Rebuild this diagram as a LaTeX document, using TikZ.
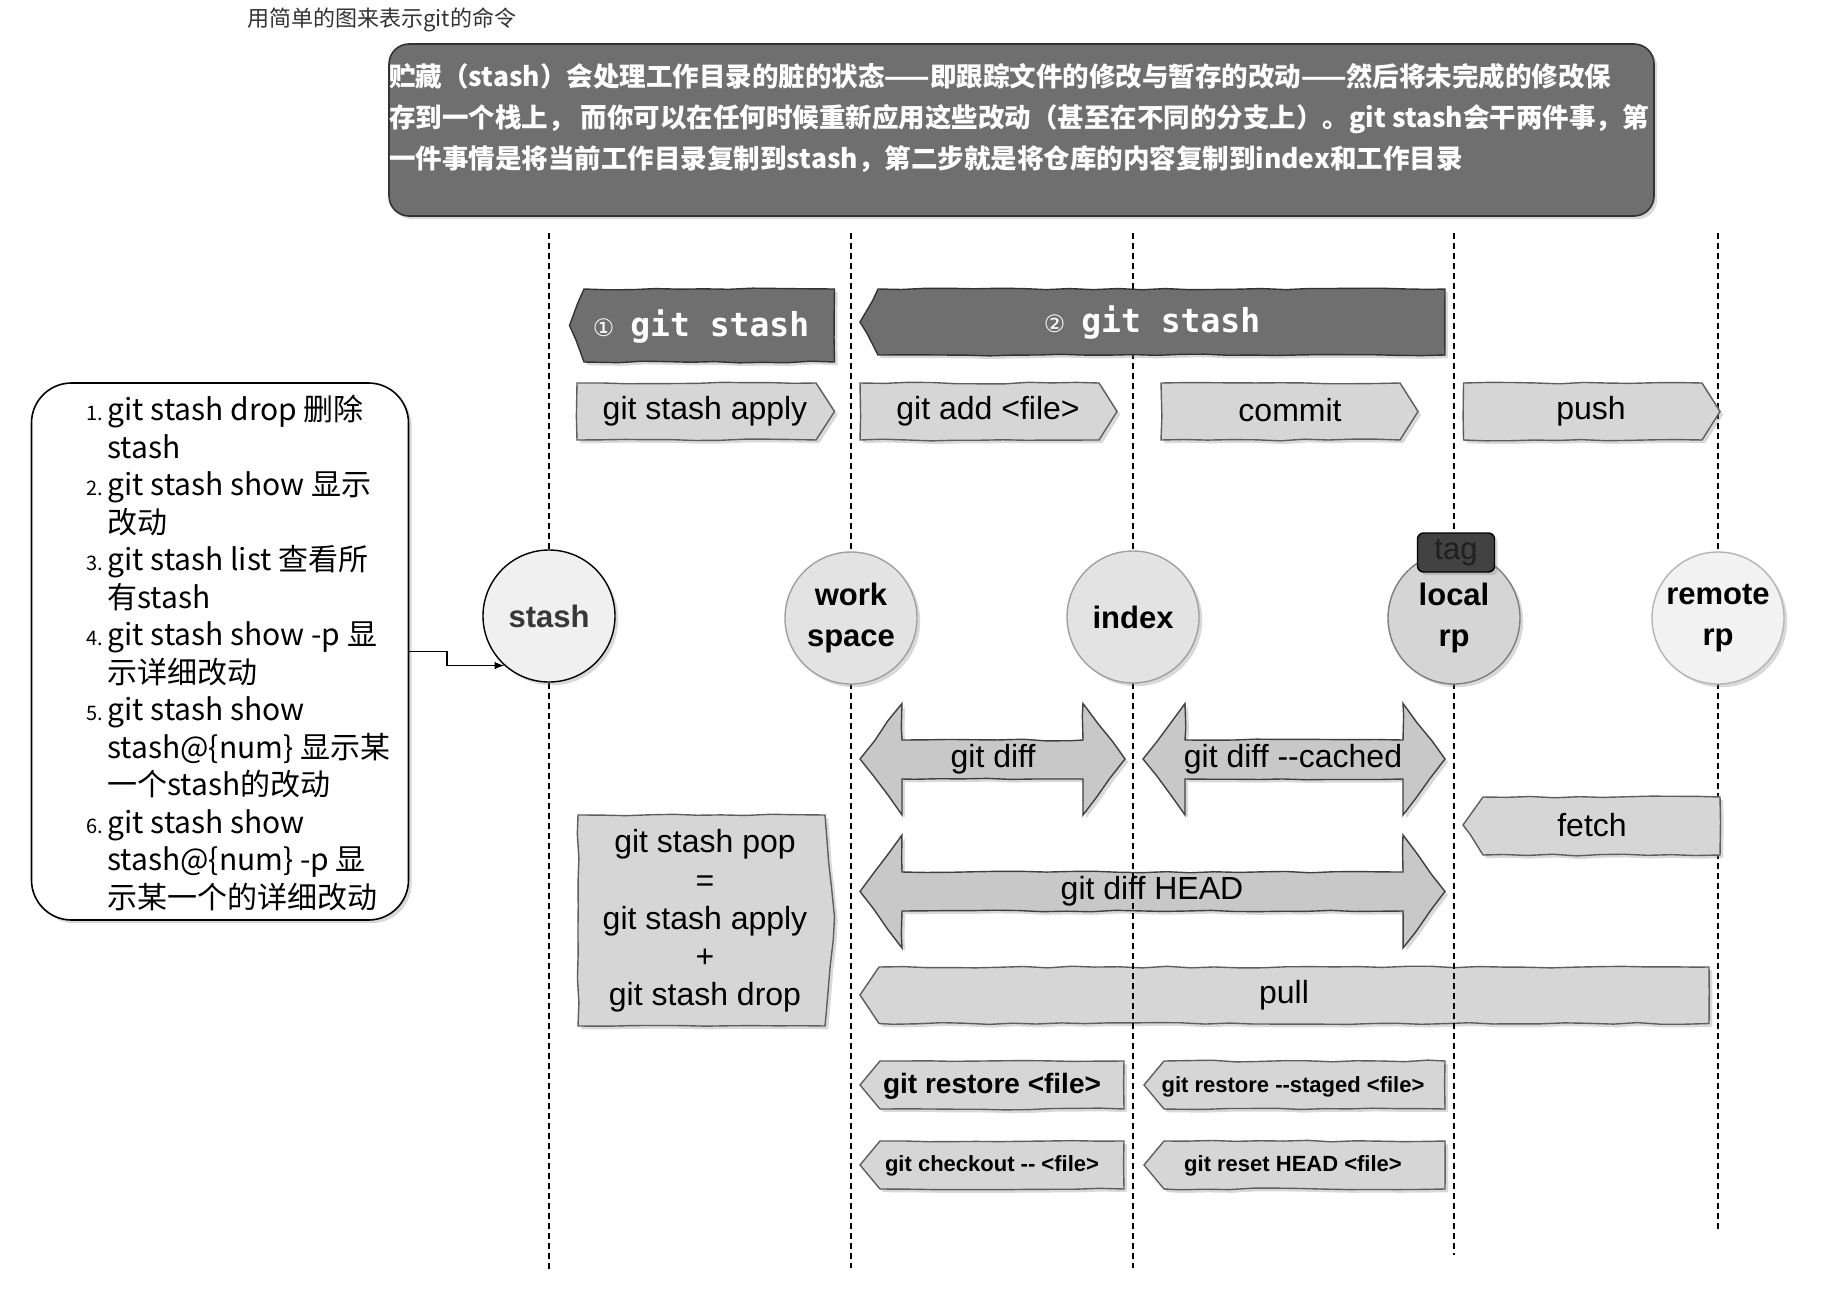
\documentclass[tikz,border=0pt]{standalone}
\usepackage{fontspec}
\setmainfont{Liberation Sans}
\newfontfamily\cnfont{Noto Sans CJK SC}
\newfontfamily\gitmono{DejaVu Sans Mono}
\newfontfamily\circfont{DejaVu Sans}
\usetikzlibrary{arrows,shadows,decorations.pathmorphing,positioning}

\definecolor{darkfill}{HTML}{6F6F6F}
\definecolor{darkline}{HTML}{333333}
\definecolor{lightfill}{HTML}{D6D6D6}
\definecolor{difffill}{HTML}{C8C8C8}
\definecolor{edgegray}{HTML}{5E5E5E}
\definecolor{stashfill}{HTML}{F0F0F0}
\definecolor{wsfill}{HTML}{E3E3E3}
\definecolor{wsline}{HTML}{A0A0A0}
\definecolor{localfill}{HTML}{D5D5D5}
\definecolor{localline}{HTML}{7E7E7E}
\definecolor{remotefill}{HTML}{F2F2F2}
\definecolor{remoteline}{HTML}{B5B5B5}
\definecolor{tagfill}{HTML}{424242}

\tikzstyle{arrow} = [draw, -latex]
\tikzstyle{sketch} = [decorate, decoration={random steps, segment length=12pt, amplitude=0.45pt}]
\tikzstyle{castshadow} = [drop shadow={shadow xshift=1.6pt, shadow yshift=-1.6pt, opacity=0.3}]
\tikzstyle{darkshape} = [sketch, castshadow, fill=darkfill, draw=darkline, line width=0.7pt]
\tikzstyle{lightshape} = [sketch, castshadow, fill=lightfill, draw=edgegray, line width=0.7pt]
\tikzstyle{diffshape} = [sketch, castshadow, fill=difffill, draw=black!75, line width=0.7pt]
\tikzstyle{lifeline} = [draw, black, line width=0.65pt, dash pattern=on 3pt off 2pt]
\tikzstyle{repo} = [circle, minimum size=66pt, inner sep=0pt, line width=0.7pt, align=center, castshadow, font=\bfseries\fontsize{15.5}{20.5}\selectfont]
\tikzstyle{cmd} = [inner sep=0pt, align=center, font=\fontsize{16}{19}\selectfont]
\tikzstyle{smallcmd} = [inner sep=0pt, font=\bfseries\fontsize{11}{13}\selectfont]
\tikzstyle{headtext} = [inner sep=0pt, text=white]

\newcommand{\itemnum}[1]{\llap{\fontsize{10}{10}\selectfont #1.\hspace{2.3pt}}}
\newcommand{\gitstash}[1]{{\circfont\fontsize{12}{14}\selectfont #1}\hspace{8pt}{\gitmono\bfseries\fontsize{16.5}{19}\selectfont git stash}}

\begin{document}
\begin{tikzpicture}[x=0.5pt, y=-0.5pt]
    \useasboundingbox (0,0) rectangle (1830,1290);
    \pgfmathsetseed{11}

    % title
    \node[anchor=west, inner sep=0pt, text=black!80, font=\cnfont\fontsize{11}{13}\selectfont] (title) at (247,20) {用简单的图来表示git的命令};

    % note
    \draw[castshadow, fill=darkfill, draw=darkline, line width=0.8pt, rounded corners=10pt]
        (389,44) rectangle (1654,216);
    \node[anchor=north west, inner sep=0pt, align=left, text=white, font=\cnfont\bfseries\fontsize{13.25}{20.5}\selectfont] (notetext) at (389,63)
        {贮藏（stash）会处理工作目录的脏的状态——即跟踪文件的修改与暂存的改动——然后将未完成的修改保\\
         存到一个栈上， 而你可以在任何时候重新应用这些改动（甚至在不同的分支上）。git stash会干两件事，第\\
         一件事情是将当前工作目录复制到stash，第二步就是将仓库的内容复制到index和工作目录};

    % long arrows, under the lifelines
    \draw[diffshape] (860,891.5) -- (902,835) -- (902,872) -- (1403,872) -- (1403,835) -- (1445,891.5)
        -- (1403,948) -- (1403,911) -- (902,911) -- (902,948) -- cycle;
    \node[cmd] (diffhead) at (1152,891) {git diff HEAD};
    \draw[lightshape] (860,995) -- (879,967) -- (1709,967) -- (1709,1023.5) -- (879,1023.5) -- cycle;
    \node[cmd] (pull) at (1284,995) {pull};

    % lifelines
    \draw[lifeline] (549,233) -- (549,1272);   % stash
    \draw[lifeline] (851,233) -- (851,1268);   % work space
    \draw[lifeline] (1133,233) -- (1133,1268); % index
    \draw[lifeline] (1454,233) -- (1454,1255); % local rp
    \draw[lifeline] (1718,233) -- (1718,1231); % remote rp

    % git stash, step 1 and 2
    \draw[darkshape] (569.5,325.5) -- (584,289) -- (834.5,289) -- (834.5,362) -- (584,362) -- cycle;
    \node[headtext] (stepone) at (701,326) {\gitstash{①}};
    \draw[darkshape] (860,322) -- (878,289) -- (1445,289) -- (1445,355) -- (878,355) -- cycle;
    \node[headtext] (steptwo) at (1152,322) {\gitstash{②}};

    % forward commands
    \draw[lightshape] (577,383) -- (816,383) -- (834.5,411.5) -- (816,440) -- (577,440) -- cycle;
    \node[cmd] (apply) at (705,411) {git stash apply};
    \draw[lightshape] (860,383) -- (1099,383) -- (1117,411.5) -- (1099,440) -- (860,440) -- cycle;
    \node[cmd] (add) at (988,411) {git add <file>};
    \draw[lightshape] (1161,383) -- (1400,383) -- (1418,411.5) -- (1400,440) -- (1161,440) -- cycle;
    \node[cmd] (commit) at (1290,410) {commit};
    \draw[lightshape] (1463.5,383) -- (1702,383) -- (1720,411.5) -- (1702,440) -- (1463.5,440) -- cycle;
    \node[cmd] (push) at (1591,411) {push};

    % diffs
    \draw[diffshape] (860,759) -- (902,703.5) -- (902,740) -- (1083,740) -- (1083,703.5) -- (1125,759)
        -- (1083,815) -- (1083,779) -- (902,779) -- (902,815) -- cycle;
    \node[cmd] (diff) at (993,759) {git diff};
    \draw[diffshape] (1143,759) -- (1185,703.5) -- (1185,740) -- (1403,740) -- (1403,703.5) -- (1445,759)
        -- (1403,815) -- (1403,779) -- (1185,779) -- (1185,815) -- cycle;
    \node[cmd] (cached) at (1293,759) {git diff -{}-cached};

    % fetch
    \draw[lightshape] (1463,825) -- (1483,797) -- (1720,797) -- (1720,855) -- (1483,855) -- cycle;
    \node[cmd] (fetch) at (1592,825) {fetch};

    % stash pop
    \draw[lightshape] (578,815) -- (825,815) -- (834.5,917) -- (825,1026) -- (578,1026) -- cycle;
    \node[cmd, font=\fontsize{16}{19.1}\selectfont] (pop) at (705,921)
        {git stash pop\\=\\git stash apply\\+\\git stash drop};

    % undo commands
    \draw[lightshape] (860,1085) -- (880,1061) -- (1124,1061) -- (1124,1109) -- (880,1109) -- cycle;
    \node[smallcmd, font=\bfseries\fontsize{14}{16}\selectfont] (restore) at (992,1086) {git restore <file>};
    \draw[lightshape] (1144,1085) -- (1164,1061) -- (1445,1061) -- (1445,1109) -- (1164,1109) -- cycle;
    \node[smallcmd] (staged) at (1293,1087) {git restore -{}-staged <file>};
    \draw[lightshape] (860,1165) -- (880,1141) -- (1124,1141) -- (1124,1189) -- (880,1189) -- cycle;
    \node[smallcmd] (checkout) at (992,1166) {git checkout -{}- <file>};
    \draw[lightshape] (1144,1165) -- (1164,1141) -- (1445,1141) -- (1445,1189) -- (1164,1189) -- cycle;
    \node[smallcmd] (reset) at (1293,1166) {git reset HEAD <file>};

    % areas
    \node[repo, fill=stashfill, draw=black, text=black!78] (stash) at (549,616) {stash};
    \node[repo, fill=wsfill, draw=wsline] (work) at (851,618) {work\\space};
    \node[repo, fill=wsfill, draw=wsline] (index) at (1133,617) {index};
    \node[repo, fill=localfill, draw=localline] (local) at (1454,618) {local\\rp};
    \node[repo, fill=remotefill, draw=remoteline] (remote) at (1718,618) {remote\\rp};
    \node[draw=black, fill=tagfill, rounded corners=3pt, line width=0.7pt, castshadow, minimum width=38.5pt, minimum height=19.5pt,
        inner sep=0pt, text=black!88, font=\fontsize{15.5}{17}\selectfont] (tag) at (1456,552.5) {tag};

    % stash commands
    \node[castshadow, fill=white, draw=black, line width=0.8pt, rounded corners=20pt,
        minimum width=188.5pt, minimum height=268.5pt, inner sep=0pt] (lstbox) at (220,651.5) {};
    \node[anchor=north west, inner sep=0pt, align=left, font=\cnfont\fontsize{15}{18.75}\selectfont] (lsttext) at (107,395)
        {\itemnum{1}git stash drop 删除\\
         stash\\
         \itemnum{2}git stash show 显示\\
         改动\\
         \itemnum{3}git stash list 查看所\\
         有stash\\
         \itemnum{4}git stash show -p 显\\
         示详细改动\\
         \itemnum{5}git stash show\\
         stash@\{num\} 显示某\\
         一个stash的改动\\
         \itemnum{6}git stash show\\
         stash@\{num\} -p 显\\
         示某一个的详细改动};
    \draw[arrow, line width=0.7pt] (lstbox.east) -- ++(37.5,0) |- (stash.228);
\end{tikzpicture}
\end{document}
